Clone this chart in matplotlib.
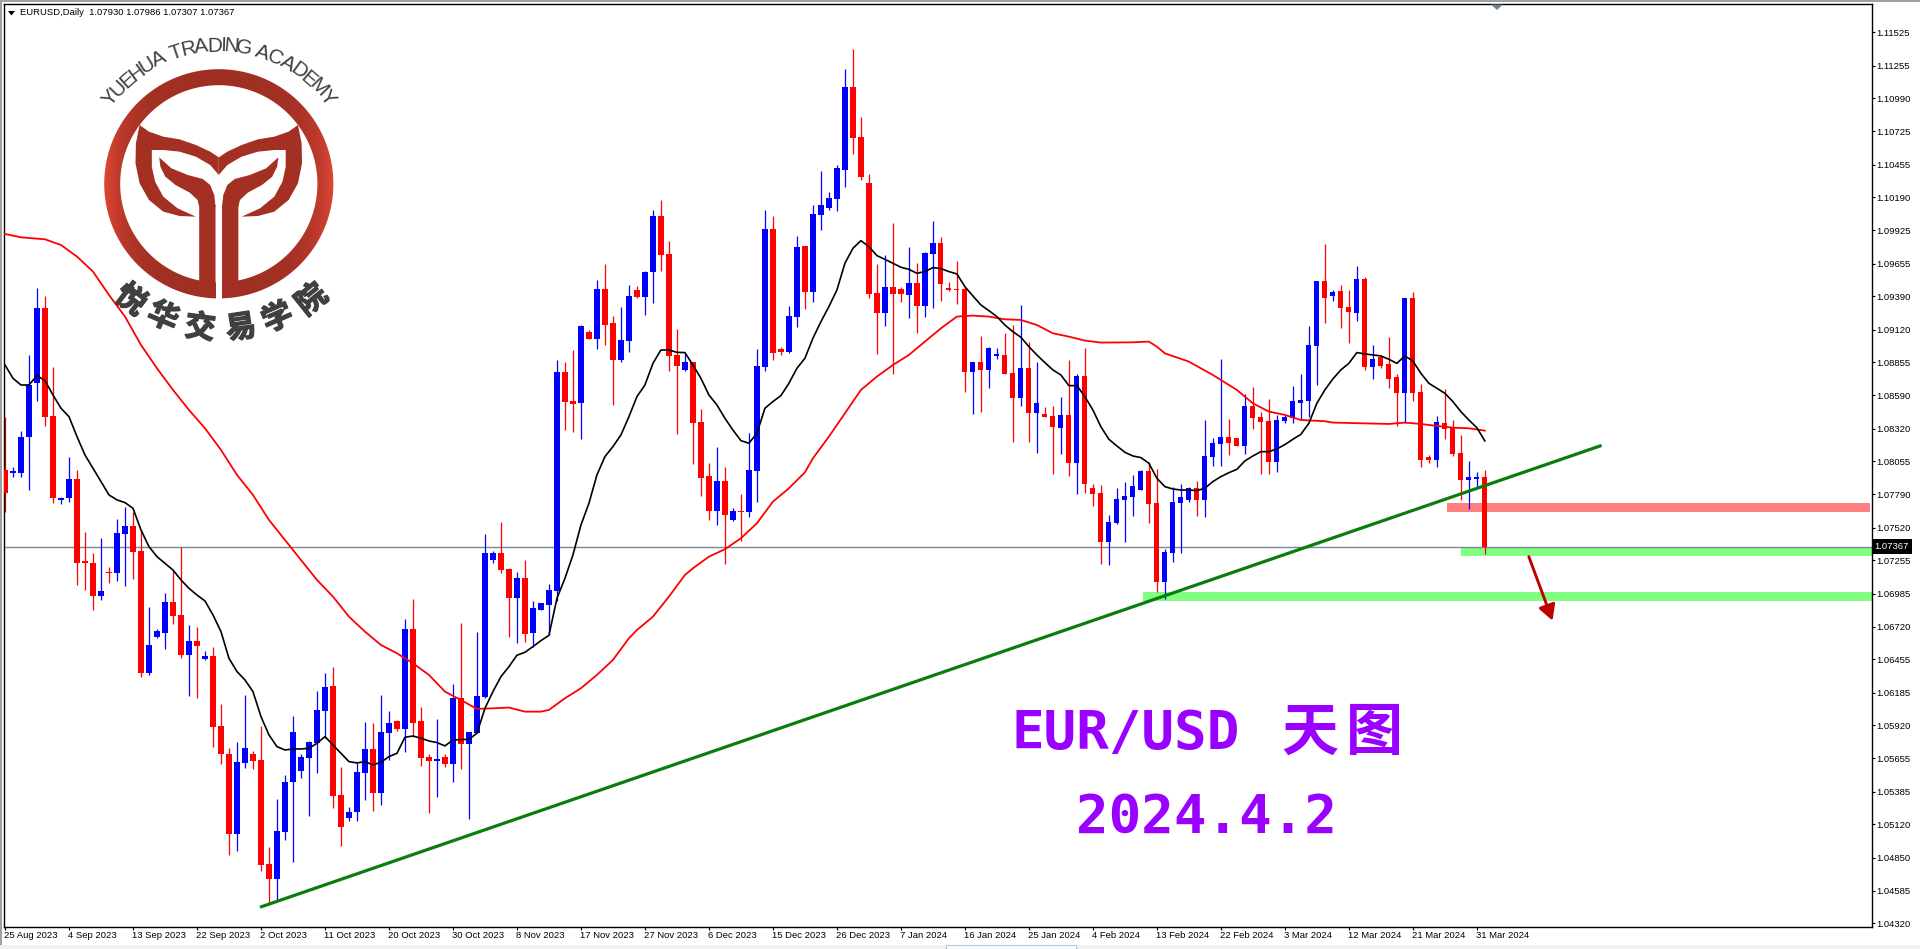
import numpy as np
import matplotlib
matplotlib.use('Agg')
import matplotlib.pyplot as plt
import matplotlib.patheffects as pe
from matplotlib.patches import Polygon, Rectangle
from matplotlib.textpath import TextPath
from matplotlib.transforms import ScaledTranslation
from matplotlib.font_manager import FontProperties

# daily quotes in points (1.07367 -> 107367)
OPEN_PTS = [107986,107964,107959,108256,108687,109293,108423,107746,107757,107913,
    107250,107234,106970,107161,107156,107469,107533,107331,106347,106638,
    106671,106919,106814,106490,106604,106458,106482,105914,105690,105046,
    105620,105687,105641,104801,104679,105062,105466,105552,105658,105782,
    106038,106240,105358,105175,105224,105539,105730,105377,105862,105957,
    105892,106701,105957,105666,105633,105666,105612,106143,105773,105857,
    106151,107258,107315,107186,106954,107113,106668,106857,106895,107010,
    108778,108544,108530,109102,109048,109449,109175,108875,109029,109441,
    109385,109587,110040,109732,108916,108795,108859,108374,107938,107657,
    107897,107582,107655,107649,107978,108821,109935,108964,108940,109226,
    109797,109425,110048,110104,110177,110412,111083,110678,110306,109417,
    109258,109466,109449,109401,109498,109312,109732,109821,109458,109452,
    109449,108778,108859,108795,108908,108916,108770,108568,108811,108450,
    108439,108423,108328,108431,108040,108746,107841,107800,107404,107558,
    107744,107768,107824,107978,107719,107081,107315,107719,107744,107841,
    107744,108091,108196,108253,108245,108180,108503,108415,108382,108051,
    108380,108404,108530,108544,108991,109514,109393,109433,109304,109255,
    109530,108821,108900,108843,108738,108611,109377,108617,108091,108067,
    108366,108334,108123,107905,107913,107930]
HIGH_PTS = [108417,108013,108301,108916,109455,109393,108816,107770,108088,107986,
    107487,107312,107439,107204,107590,107684,107649,107501,106876,106698,
    106992,107177,107366,106733,106717,106523,106555,106094,105736,105790,
    106167,105714,105916,104941,105326,105520,105997,105687,105795,106199,
    106345,106393,105585,105261,105614,105949,105943,106167,106038,105965,
    106781,106943,106070,105687,105973,105687,106253,106749,105868,106676,
    107469,107331,107566,107191,107161,107258,106927,106911,107064,108875,
    108859,108956,109158,109118,109522,109652,109231,109304,109482,109474,
    109595,110088,110169,109838,109126,108924,108859,108477,108045,108169,
    108010,107679,107792,108282,108962,110088,110040,108983,109312,109878,
    109797,110129,110403,110234,110452,111228,111390,110840,110379,109652,
    109724,109983,109466,109789,109660,109749,109999,109870,109506,109676,
    109468,108859,109069,108981,108972,109094,109158,109320,109021,108859,
    108495,108503,108574,108875,108762,108972,107873,107865,107622,107841,
    107889,107946,107986,108053,107994,107347,107849,107873,107849,107897,
    108390,108245,108881,108398,108245,108601,108657,108455,108560,108431,
    108439,108665,108762,109150,109514,109813,109441,109482,109441,109635,
    109546,108997,108916,109061,108762,109377,109425,108681,108107,108423,
    108641,108390,108269,108059,107970,107986]
LOW_PTS = [107649,107932,107932,107824,108544,108342,107717,107714,107730,107056,
    107016,106854,106935,107075,107089,107048,107105,106315,106329,106625,
    106539,106741,106469,106162,106145,106450,105749,105612,104873,104906,
    105580,105569,104747,104482,104510,104995,104819,105499,105191,105539,
    105817,105256,104949,105151,105151,105318,105232,105278,105641,105876,
    105709,105830,105593,105216,105342,105587,105466,105571,105164,105857,
    106143,107237,107156,106636,106590,106598,106558,106857,106652,106927,
    108309,108296,108239,109048,108967,108999,108512,108859,108940,109377,
    109239,109336,109598,108786,108277,108786,108035,107776,107582,107541,
    107226,107574,107415,107609,107727,108786,108875,108916,108935,109145,
    109288,109344,109926,110088,110080,110277,110541,110331,109377,108924,
    109150,108762,109344,109215,109094,109223,109296,109352,109433,109328,
    108617,108439,108455,108649,108883,108762,108212,108503,108212,108126,
    108417,107954,108115,107938,107792,107803,107695,107226,107218,107549,
    107404,107614,107824,107555,107000,106943,107242,107315,107727,107614,
    107606,108018,108018,108107,108180,108115,108318,107954,107954,107970,
    108369,108369,108390,108412,108673,109175,109355,109134,109013,109191,
    108795,108722,108813,108649,108342,108363,108544,108010,108043,108010,
    108237,108099,107744,107671,107851,107307]
CLOSE_PTS = [107797,107981,108250,108673,109293,108417,107757,107762,107913,107237,
    107237,106970,107008,107153,107474,107533,107326,106347,106571,106684,
    106919,106808,106490,106604,106566,106480,105911,105687,105046,105625,
    105736,105636,104795,104679,105067,105464,105868,105666,105787,106046,
    106232,105353,105102,105221,105544,105730,105377,105868,105941,105892,
    106701,105943,105660,105633,105647,105612,106143,105773,105868,106159,
    107315,107315,107177,106954,107113,106663,106870,106911,107016,108778,
    108539,108522,109150,109048,109449,109161,108875,109037,109393,109385,
    109587,110040,109724,108908,108827,108859,108369,107924,107657,107897,
    107625,107655,107647,107986,108827,109935,108935,108937,109231,109789,
    109425,110056,110129,110185,110428,111083,110670,110355,109409,109258,
    109466,109409,109409,109498,109312,109740,109821,109490,109444,109444,
    108778,108859,108795,108972,108924,108762,108568,108811,108450,108530,
    108417,108336,108431,108040,108746,107870,107792,107404,107566,107752,
    107776,107857,107978,107711,107081,107323,107727,107768,107841,107744,
    108099,108204,108253,108204,108180,108503,108406,108374,108051,108390,
    108412,108544,108552,108997,109514,109379,109425,109299,109263,109530,
    108821,108883,108827,108722,108611,109377,108611,108067,108067,108374,
    108318,108115,107905,107929,107929,107367]

# short moving average (black), one value per bar
MA_FAST_PTS = [108835,108727,108673,108673,108749,108708,108592,108485,108417,108256,
    108107,108000,107892,107784,107744,107722,107676,107501,107366,107285,
    107231,107177,107097,107029,106975,106927,106814,106679,106463,106356,
    106288,106194,105992,105844,105749,105722,105730,105730,105736,105776,
    105830,105763,105695,105628,105617,105628,105601,105623,105668,105695,
    105825,105835,105817,105795,105782,105755,105803,105806,105808,105857,
    106059,106194,106315,106396,106488,106512,106558,106606,106649,106948,
    107110,107299,107541,107717,107946,108094,108175,108269,108417,108579,
    108673,108848,108956,108956,108937,108935,108835,108727,108592,108512,
    108404,108309,108223,108202,108282,108485,108539,108587,108687,108808,
    108889,109051,109185,109307,109441,109657,109778,109840,109792,109719,
    109689,109657,109625,109608,109576,109590,109622,109614,109590,109571,
    109468,109393,109320,109274,109226,109158,109104,109059,108983,108916,
    108854,108795,108754,108668,108668,108579,108471,108336,108234,108180,
    108129,108099,108086,108040,107919,107851,107832,107824,107824,107819,
    107838,107892,107932,107964,107991,108059,108099,108134,108134,108156,
    108191,108234,108274,108363,108525,108633,108722,108795,108848,108935,
    108924,108916,108908,108881,108848,108908,108867,108768,108687,108646,
    108606,108539,108458,108390,108328,108221]

# long moving average (red), read at every second bar or so
MA_SLOW_BARS = [0,2,5,7,9,11,13,15,17,19,21,23,25,27,29,31,33,35,37,39,41,43,45,47,49,51,53,55,57,59,
    61,63,65,67,68,70,72,74,76,78,79,81,83,85,86,88,90,92,94,96,98,100,101,103,105,107,109,111,113,115,
    117,119,121,123,125,127,129,131,133,135,137,141,143,144,145,148,151,154,156,158,160,162,165,166,173,
    175,177,179,181,183,185]
MA_SLOW_PTS = [109894,109867,109851,109805,109711,109590,109401,109226,108997,108808,108633,108471,108323,108148,
    107946,107784,107582,107420,107258,107097,106962,106800,106679,106571,106504,106423,106329,106194,106126,106054,
    106059,106065,106032,106032,106046,106140,106221,106329,106450,106625,106692,106800,106962,107137,107191,107285,
    107345,107434,107555,107730,107838,107967,108080,108256,108444,108633,108741,108835,108916,109024,
    109131,109226,109234,109226,109204,109199,109158,109091,109064,109032,109016,109018,109024,108983,108929,108862,
    108754,108633,108525,108458,108431,108390,108380,108369,108358,108369,108358,108342,108328,108323,108304]

X_TICK_LABELS = ['25 Aug 2023','4 Sep 2023','13 Sep 2023','22 Sep 2023','2 Oct 2023','11 Oct 2023','20 Oct 2023',
    '30 Oct 2023','8 Nov 2023','17 Nov 2023','27 Nov 2023','6 Dec 2023','15 Dec 2023','26 Dec 2023','7 Jan 2024',
    '16 Jan 2024','25 Jan 2024','4 Feb 2024','13 Feb 2024','22 Feb 2024','3 Mar 2024','12 Mar 2024','21 Mar 2024','31 Mar 2024']
Y_TICKS = [1.11525,1.11255,1.10990,1.10725,1.10455,1.10190,1.09925,1.09655,1.09390,1.09120,1.08855,1.08590,1.08320,
    1.08055,1.07790,1.07520,1.07255,1.06985,1.06720,1.06455,1.06185,1.05920,1.05655,1.05385,1.05120,1.04850,1.04585,1.04320]

LAST_PRICE = 1.07367
TREND_BARS, TREND_PRICES = [32.07, 199.4], [1.04455, 1.08180]
ARROW_BARS, ARROW_PRICES = [190.5, 193.46], [1.07285, 1.06768]
# zones: first bar, last bar, low, high, colour
ZONES = [(180.25, 233.1, 1.07646, 1.07719, '#ff8080'), (182.0, 233.4, 1.07291, 1.07358, '#80ff80'), (142.25, 233.4, 1.06929, 1.07000, '#80ff80')]

W, H = 1920, 949
plt.rcParams['font.family'] = ['Liberation Sans', 'DejaVu Sans']
fig = plt.figure(figsize=(W / 100, H / 100), dpi=100, facecolor='white')
ax = fig.add_axes([4 / W, 1 - 926.6 / H, 1868 / W, 922.3 / H])

opens, highs = np.array(OPEN_PTS) / 1e5, np.array(HIGH_PTS) / 1e5
lows, closes = np.array(LOW_PTS) / 1e5, np.array(CLOSE_PTS) / 1e5
bars = np.arange(len(opens))
colors = np.where(closes > opens, '#0000ff', '#ff0000')

ax.set_xlim(-0.125, 233.4)
ax.set_ylim(1.04294, 1.11751)

for start, end, low, high, color in ZONES:
    ax.add_patch(Rectangle((start, low), end - start, high - low, color=color, lw=0, zorder=1))
ax.axhline(LAST_PRICE, color='#778899', lw=1, zorder=1.5)

ax.vlines(bars, lows, highs, colors=colors, lw=0.9, zorder=2)
ax.bar(bars, np.abs(closes - opens), bottom=np.minimum(opens, closes), width=0.65, color=colors, lw=0, zorder=3)

ax.plot(MA_SLOW_BARS, np.array(MA_SLOW_PTS) / 1e5, color='#ff0000', lw=1.3, zorder=4)
ax.plot(bars, np.array(MA_FAST_PTS) / 1e5, color='black', lw=1.2, zorder=5)
ax.plot(TREND_BARS, TREND_PRICES, color='#0a7d0a', lw=2.3, zorder=6)
ax.annotate('', xy=(ARROW_BARS[1], ARROW_PRICES[1]), xytext=(ARROW_BARS[0], ARROW_PRICES[0]),
            arrowprops=dict(arrowstyle='-|>,head_width=0.32,head_length=0.58', color='#c00000', lw=2.1, shrinkA=0, shrinkB=0, mutation_scale=16), zorder=6)

ax.set_xticks(bars[::8][:len(X_TICK_LABELS)])
ax.set_xticklabels(X_TICK_LABELS, fontsize=6.8, ha='left')
ax.set_yticks(Y_TICKS)
ax.set_yticklabels(['%.5f' % v for v in Y_TICKS], fontsize=6.8)
ax.yaxis.tick_right()
ax.tick_params(axis='x', length=2.2, width=0.8, pad=1)
ax.tick_params(axis='y', length=2.2, width=0.8, pad=1.2)
nudge = ScaledTranslation(-0.5 / 100, 0, fig.dpi_scale_trans)
for label in ax.get_xticklabels():
    label.set_transform(label.get_transform() + nudge)
for spine in ax.spines.values():
    spine.set_linewidth(1.0)

ax.text(1.0014, LAST_PRICE, '%.5f' % LAST_PRICE, transform=ax.get_yaxis_transform(), color='white', fontsize=6.8,
        va='center', ha='left', clip_on=False, bbox=dict(fc='black', ec='none', pad=2.2), zorder=10)

# overlay in image pixels for the header text, window edge and logo
ov = fig.add_axes([0, 0, 1, 1], zorder=20)
ov.set_xlim(0, W)
ov.set_ylim(H, 0)
ov.axis('off')

ov.add_patch(Rectangle((0, 0), W, 2.2, color='#a0a0a0', lw=0))
ov.add_patch(Rectangle((0, 0), 2.2, H, color='#a0a0a0', lw=0))
ov.add_patch(Rectangle((0, 944.5), W, 4.5, color='#f0f0f0', lw=0))
ov.add_patch(Rectangle((946, 945), 130, 4, fc='white', ec='#a8c8e8', lw=0.8))
ov.add_patch(Polygon([(8, 11), (15, 11), (11.5, 15.5)], color='black', lw=0))
ov.add_patch(Polygon([(1491, 4.5), (1503, 4.5), (1497, 10)], color='#6e8296', lw=0))
ov.text(20, 12.7, 'EURUSD,Daily  1.07930 1.07986 1.07307 1.07367', fontsize=6.8, va='center', ha='left', color='black')

purple = '#9900ff'
ov.text(1012, 734, 'EUR/USD', family=['DejaVu Sans Mono'], fontweight='bold', fontsize=39, color=purple, va='center', ha='left')
ov.text(1310, 733, '天', family=['Noto Sans CJK SC'], fontweight='bold', fontsize=41, color=purple, va='center', ha='center')
ov.text(1374, 733, '图', family=['Noto Sans CJK SC'], fontweight='bold', fontsize=41, color=purple, va='center', ha='center')
ov.text(1076, 818, '2024.4.2', family=['DejaVu Sans Mono'], fontweight='bold', fontsize=39, color=purple, va='center', ha='left')

# logo
CX, CY = 218.8, 183.8
def lp(points, mirror=False):
    pts = np.array(points, dtype=float)
    if mirror:
        pts[:, 0] = 1072 - pts[:, 0]
    return np.column_stack([pts[:, 0] / 2.45, pts[:, 1] / 3])

theta = np.linspace(0, 2 * np.pi, 240)
ring = np.vstack([np.column_stack([CX + 114.6 * np.cos(theta), CY + 114.6 * np.sin(theta)]),
                  np.column_stack([CX + 98.6 * np.cos(theta[::-1]), CY + 98.6 * np.sin(theta[::-1])])])
shade = np.abs(np.linspace(-1, 1, 230)) ** 5
grad = np.zeros((2, 230, 3))
for k, (a, b) in enumerate(zip((0.627, 0.188, 0.137), (0.878, 0.275, 0.212))):
    grad[:, :, k] = a + (b - a) * shade
im = ov.imshow(grad, extent=(CX - 115, CX + 115, CY + 115, CY - 115), aspect='auto', zorder=2)
im.set_clip_path(Polygon(ring, transform=ov.transData))
ov.set_xlim(0, W)
ov.set_ylim(H, 0)

WING = [(342,375),(365,395),(400,410),(440,418),(480,435),(515,455),(536,472),(536,525),(515,495),(480,470),(440,455),
        (400,450),(372,450),(372,500),(380,545),(400,590),(435,625),(480,650),(440,648),(400,635),(365,600),(342,550),(332,490),(333,430)]
LEAF = [(390,472),(420,505),(460,525),(497,537),(515,555),(525,585),(528,620),(488,620),(484,600),(465,578),(430,555),(405,530),(393,500)]
STEM = [(488,615),(528,615),(528,870),(510,892),(490,882),(488,843)]
ov.add_patch(Rectangle((528 / 2.45, 530 / 3), 17 / 2.45, 370 / 3, color='white', lw=0, zorder=3))
for shape in (WING, LEAF, STEM):
    for mirror in (False, True):
        ov.add_patch(Polygon(lp(shape, mirror), color='#a33022', lw=0, zorder=4))

name = 'YUEHUA TRADING ACADEMY'
fp = FontProperties(family='Liberation Sans')
adv = [TextPath((0, 0), c, size=20.5, prop=fp).get_extents().width + 2.2 if c != ' ' else 5.5 for c in name]
span = np.radians(109)
pos = (np.cumsum(adv) - np.array(adv) / 2) / sum(adv)
for c, p in zip(name, pos):
    a = -span / 2 + span * p
    ov.text(CX + 138 * np.sin(a), CY - 138 * np.cos(a), c, fontsize=15, color='#404040', rotation=-np.degrees(a),
            rotation_mode='anchor', ha='center', va='center', zorder=5)

cjk = '悦华交易学院'
cjk_x = [130.6, 163, 200, 241, 277.6, 312]
cjk_y = [300, 317, 328, 328, 318, 300]
for c, x, y in zip(cjk, cjk_x, cjk_y):
    rot = np.degrees(np.arctan2(x - CX, y - CY))
    ov.text(x, y, c, family=['Noto Sans CJK SC'], fontweight='bold', fontsize=22, color='#404040', rotation=rot,
            rotation_mode='anchor', ha='center', va='center', zorder=5,
            path_effects=[pe.withStroke(linewidth=1.0, foreground='#404040')])

fig.savefig('out.png', dpi=100)
plt.close(fig)
